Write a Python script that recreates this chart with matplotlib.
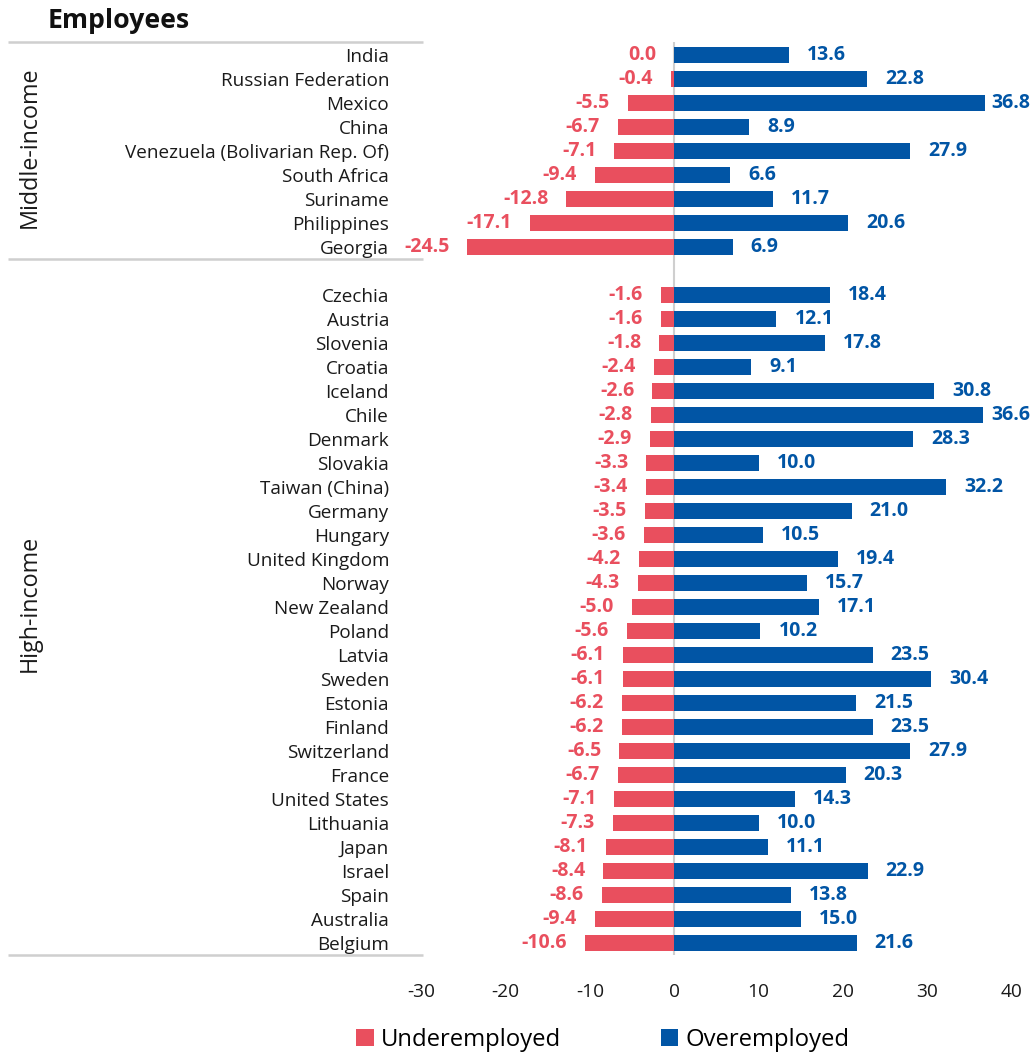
import matplotlib
matplotlib.use("Agg")
import matplotlib.pyplot as plt
import matplotlib.transforms as mtransforms
from matplotlib.patches import Patch

plt.rcParams['font.family'] = ['Open Sans', 'DejaVu Sans']

# Data
middle_countries = ["India", "Russian Federation", "Mexico", "China",
                    "Venezuela (Bolivarian Rep. Of)", "South Africa", "Suriname",
                    "Philippines", "Georgia"]
middle_under = [0.0, -0.4, -5.5, -6.7, -7.1, -9.4, -12.8, -17.1, -24.5]
middle_over = [13.6, 22.8, 36.8, 8.9, 27.9, 6.6, 11.7, 20.6, 6.9]

high_countries = ["Czechia", "Austria", "Slovenia", "Croatia", "Iceland", "Chile",
                  "Denmark", "Slovakia", "Taiwan (China)", "Germany", "Hungary",
                  "United Kingdom", "Norway", "New Zealand", "Poland", "Latvia",
                  "Sweden", "Estonia", "Finland", "Switzerland", "France",
                  "United States", "Lithuania", "Japan", "Israel", "Spain",
                  "Australia", "Belgium"]
high_under = [-1.6, -1.6, -1.8, -2.4, -2.6, -2.8, -2.9, -3.3, -3.4, -3.5, -3.6,
              -4.2, -4.3, -5.0, -5.6, -6.1, -6.1, -6.2, -6.2, -6.5, -6.7, -7.1,
              -7.3, -8.1, -8.4, -8.6, -9.4, -10.6]
high_over = [18.4, 12.1, 17.8, 9.1, 30.8, 36.6, 28.3, 10.0, 32.2, 21.0, 10.5,
             19.4, 15.7, 17.1, 10.2, 23.5, 30.4, 21.5, 23.5, 27.9, 20.3, 14.3,
             10.0, 11.1, 22.9, 13.8, 15.0, 21.6]

groups = ["Middle-income", "High-income"]
x_ticks = [-30, -20, -10, 0, 10, 20, 30, 40]
title = "Employees"
legend_labels = ["Underemployed", "Overemployed"]

RED = "#E94F5E"
BLUE = "#0155A5"
GRID = "#CFCFCF"
TEXT = "#1a1a1a"

W, H = 1035, 1057
fig = plt.figure(figsize=(W / 100, H / 100), dpi=100)

ax_left, ax_right = 421, 1012
ax_top, ax_bot = 42, 955
ax = fig.add_axes([ax_left / W, 1 - ax_bot / H, (ax_right - ax_left) / W,
                   (ax_bot - ax_top) / H])

# Row positions: middle-income rows, one blank slot, high-income rows
mid_pos = list(range(len(middle_countries)))
high_start = len(middle_countries) + 1
high_pos = [high_start + i for i in range(len(high_countries))]
positions = mid_pos + high_pos
countries = middle_countries + high_countries
under = middle_under + high_under
over = middle_over + high_over
n_slots = high_pos[-1] + 1

bar_h = 0.66
ax.barh(positions, under, height=bar_h, color=RED, zorder=2)
ax.barh(positions, over, height=bar_h, color=BLUE, zorder=2)

ax.set_xlim(-30, 40)
ax.set_ylim(n_slots - 0.5, -0.54)

px_per_unit = (ax_right - ax_left) / 70.0
gap = 18 / px_per_unit
right_limit = (1030 - ax_left) / px_per_unit - 30

for y, u, o in zip(positions, under, over):
    ax.text(u - gap, y, f"{u:.1f}", ha="right", va="center", color=RED,
            fontsize=14, fontweight="bold", zorder=3)
    if o + gap + 4.7 > right_limit:
        ax.text(right_limit, y, f"{o:.1f}", ha="right", va="center", color=BLUE,
                fontsize=14, fontweight="bold", zorder=3)
    else:
        ax.text(o + gap, y, f"{o:.1f}", ha="left", va="center", color=BLUE,
                fontsize=14, fontweight="bold", zorder=3)

# Zero line
ax.axvline(0, color=GRID, lw=1.5, zorder=1)

# Country labels
ax.set_yticks(positions)
ax.set_yticklabels(countries, fontsize=13.6, color=TEXT)
ax.tick_params(axis="y", length=0, pad=23)

ax.set_xticks(x_ticks)
ax.set_xticklabels([str(t) for t in x_ticks], fontsize=13.8, color=TEXT)
ax.tick_params(axis="x", length=0, pad=20)

for s in ax.spines.values():
    s.set_visible(False)

# Group separator lines spanning the label area
trans = mtransforms.blended_transform_factory(ax.transAxes, ax.transData)
x0 = (8 - ax_left) / (ax_right - ax_left)
x1 = (423 - ax_left) / (ax_right - ax_left)
sep_y = [-0.54, len(middle_countries) - 0.5, n_slots - 0.5]
for yy in sep_y:
    ax.plot([x0, x1], [yy, yy], transform=trans, color=GRID, lw=1.8,
            clip_on=False, solid_capstyle="butt")

# Group labels, centred between the separator lines
gx = (30 - ax_left) / (ax_right - ax_left)
for name, ya, yb in zip(groups, sep_y[:-1], sep_y[1:]):
    ax.text(gx, (ya + yb) / 2 - 0.15, name, transform=trans, rotation=90,
            ha="center", va="center", fontsize=16.8, color=TEXT)

# Title
fig.text(48 / W, 1 - 21 / H, title, fontsize=19.2, fontweight="bold",
         ha="left", va="center", color="#111111")

# Legend
handles = [Patch(facecolor=RED, edgecolor="none"),
           Patch(facecolor=BLUE, edgecolor="none")]
fig.legend(handles, legend_labels, loc="center", bbox_to_anchor=(603 / W, 1 - 1040 / H),
           ncol=2, frameon=False, fontsize=17.2, handlelength=0.72, handleheight=0.72,
           handletextpad=0.3, columnspacing=4.2)

fig.savefig("out.png", dpi=100)
